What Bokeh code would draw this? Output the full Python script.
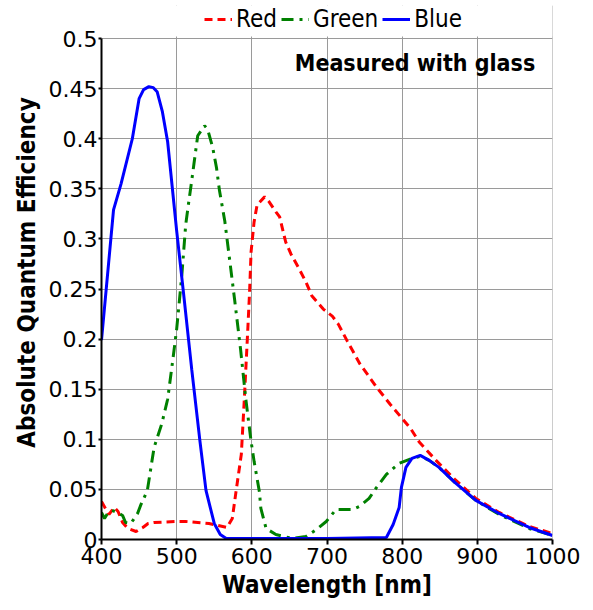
from bokeh.plotting import figure
from bokeh.models import (Range1d, FixedTicker, Legend, LegendItem, Label, BoxAnnotation, Span)
from bokeh.embed import file_html
from bokeh.resources import INLINE

# ---- data ----
red_x = [400, 406, 410, 417, 422, 428, 435, 446, 455, 462, 470, 501, 512, 543, 567,
         574, 579, 586, 590, 594, 597, 599, 603, 607, 617, 623, 632, 637, 645, 652,
         663, 672, 680, 695, 707, 715, 727, 744, 767, 784, 811, 823, 845, 870, 898,
         929, 969, 1000]
red_y = [0.038, 0.030, 0.025, 0.032, 0.028, 0.017, 0.011, 0.008, 0.012, 0.016, 0.017,
         0.018, 0.018, 0.016, 0.012, 0.021, 0.048, 0.085, 0.140, 0.200, 0.247, 0.287,
         0.317, 0.334, 0.342, 0.337, 0.327, 0.322, 0.297, 0.285, 0.270, 0.257, 0.243,
         0.230, 0.223, 0.215, 0.198, 0.175, 0.151, 0.135, 0.111, 0.097, 0.079, 0.060,
         0.041, 0.027, 0.013, 0.006]

green_x = [400, 404, 408, 414, 421, 428, 432, 439, 448, 452, 461, 470, 480, 488, 495,
           500, 507, 512, 515, 520, 523, 528, 537, 541, 548, 553, 557, 564, 577, 585,
           592, 599, 603, 610, 612, 619, 632, 654, 672, 686, 699, 712, 725, 734, 743,
           756, 765, 779, 796, 813, 824, 836, 849, 870, 898, 929, 969, 1000]
green_y = [0.027, 0.021, 0.026, 0.029, 0.027, 0.024, 0.017, 0.016, 0.026, 0.034, 0.049,
           0.092, 0.115, 0.140, 0.180, 0.210, 0.265, 0.314, 0.331, 0.358, 0.375, 0.403,
           0.413, 0.410, 0.391, 0.371, 0.348, 0.318, 0.240, 0.190, 0.140, 0.098, 0.078,
           0.048, 0.031, 0.011, 0.005, 0.001, 0.003, 0.010, 0.018, 0.030, 0.030, 0.030,
           0.033, 0.041, 0.051, 0.065, 0.076, 0.081, 0.083, 0.079, 0.072, 0.057, 0.039,
           0.025, 0.011, 0.004]

blue_x = [400, 416, 426, 441, 450, 456, 463, 469, 474, 481, 488, 500, 510, 520, 531,
          539, 550, 558, 566, 600, 700, 779, 788, 796, 799, 805, 813, 824, 836, 849,
          870, 898, 929, 969, 1000]
blue_y = [0.199, 0.329, 0.355, 0.400, 0.440, 0.449, 0.452, 0.451, 0.447, 0.427, 0.397,
          0.308, 0.240, 0.170, 0.098, 0.049, 0.016, 0.005, 0.001, 0.001, 0.001, 0.002,
          0.015, 0.032, 0.052, 0.072, 0.081, 0.084, 0.079, 0.072, 0.057, 0.039, 0.026,
          0.012, 0.004]

x_ticks = [400, 500, 600, 700, 800, 900, 1000]
y_ticks = [0, 0.05, 0.1, 0.15, 0.2, 0.25, 0.3, 0.35, 0.4, 0.45, 0.5]
y_tick_labels = ["0", "0.05", "0.1", "0.15", "0.2", "0.25", "0.3", "0.35", "0.4", "0.45", "0.5"]

series_names = ["Red", "Green", "Blue"]
title_text = "Measured with glass"
x_label = "Wavelength [nm]"
y_label = "Absolute Quantum Efficiency"

FONT = "DejaVu Sans Condensed"
TICK_FONT = "DejaVu Sans"
Y_MAX = 0.5          # top of the gridded area
Y_VIEW_TOP = 0.533   # extra headroom inside the frame for the legend

p = figure(width=585, height=608, output_backend="svg", toolbar_location=None,
           x_range=Range1d(400, 1000), y_range=Range1d(0, Y_VIEW_TOP),
           min_border_left=101, min_border_right=33, min_border_top=5, min_border_bottom=69)
p.background_fill_color = "white"
p.border_fill_color = "white"
p.outline_line_color = None

for ax in (p.xaxis[0], p.yaxis[0]):
    ax.axis_line_color = "black"
    ax.axis_line_width = 2
    ax.major_tick_line_color = "black"
    ax.major_tick_line_width = 2
    ax.minor_tick_line_color = None
    ax.major_tick_in = 0
    ax.major_label_text_font = TICK_FONT
    ax.major_label_text_font_size = "22px"
    ax.major_label_text_color = "black"
    ax.axis_label_text_font = FONT
    ax.axis_label_text_font_style = "bold"
    ax.axis_label_text_font_size = "24px"
    ax.axis_label_text_color = "black"

p.xaxis.ticker = FixedTicker(ticks=x_ticks)
p.xaxis.major_tick_out = 5
p.xaxis.major_label_standoff = 3
p.xaxis.axis_label = x_label
p.xaxis.axis_label_standoff = 4
p.yaxis.ticker = FixedTicker(ticks=y_ticks)
p.yaxis.bounds = (0, Y_MAX)
p.yaxis.major_label_overrides = {t: s for t, s in zip(y_ticks, y_tick_labels)}
p.yaxis.major_tick_out = 3
p.yaxis.major_label_standoff = 1
p.yaxis.axis_label = y_label
p.yaxis.axis_label_standoff = 5

p.xgrid.ticker = FixedTicker(ticks=x_ticks)
p.ygrid.ticker = FixedTicker(ticks=y_ticks)
for g in (p.xgrid[0], p.ygrid[0]):
    g.grid_line_color = "#9a9a9a"
    g.grid_line_width = 1

# right border of the gridded box
p.add_layout(Span(location=1000, dimension="height", line_color="#9a9a9a", line_width=1))

r_red = p.line(red_x, red_y, line_color="#ff0000", line_width=3, line_dash="8 5")
r_green = p.line(green_x, green_y, line_color="#008000", line_width=3, line_dash="12 6 3 6")
r_blue = p.line(blue_x, blue_y, line_color="#0000ff", line_width=3)

# blank the headroom above the 0.5 line (keeps the legend strip clean)
p.add_layout(BoxAnnotation(bottom=Y_MAX + 0.002, fill_color="white", fill_alpha=1.0,
                           line_color=None))

legend = Legend(items=[LegendItem(label=series_names[0], renderers=[r_red]),
                       LegendItem(label=series_names[1], renderers=[r_green]),
                       LegendItem(label=series_names[2], renderers=[r_blue])],
                orientation="horizontal", location=(103, 506),
                glyph_width=28, glyph_height=20, label_standoff=4, spacing=4,
                padding=0, margin=0, border_line_color=None, background_fill_alpha=0,
                label_text_font=FONT, label_text_font_size="24px", label_text_color="black")
p.add_layout(legend, "center")

p.add_layout(Label(x=977, y=0.476, text=title_text, text_align="right", text_baseline="middle",
                   text_color="black", text_font=FONT, text_font_style="bold",
                   text_font_size="23px"))

open("out.html", "w").write(file_html(p, INLINE))
